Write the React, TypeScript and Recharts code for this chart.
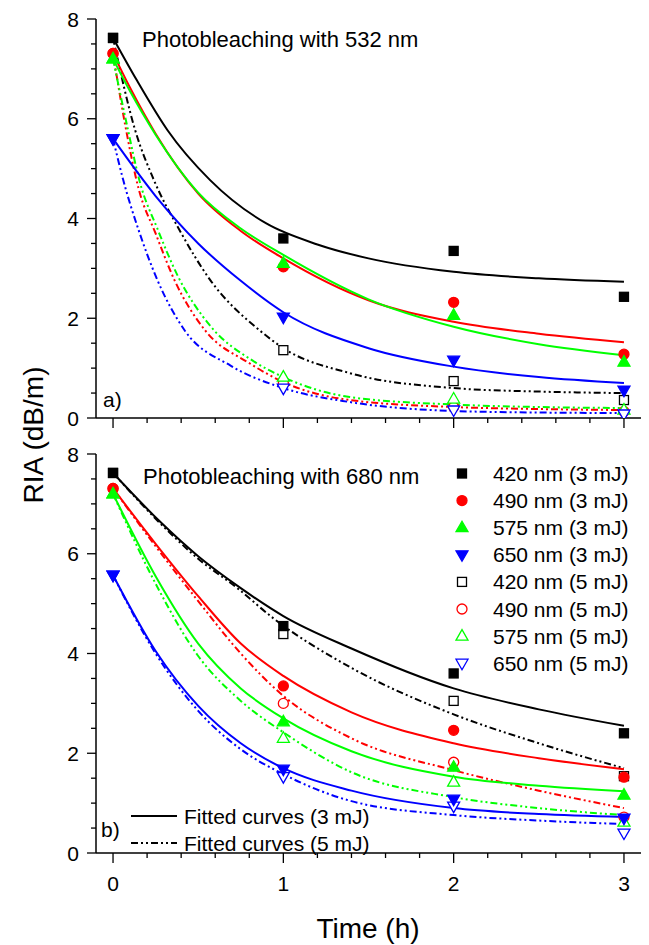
import React from 'react';
import { LineChart, Line, XAxis, YAxis } from 'recharts';

// measurement times (h)
const TIMES = [0, 1, 2, 3];
const WAVELENGTHS = ['420', '490', '575', '650'];
const COLORS = ['#000000', '#ff0000', '#00ff00', '#0000ff'];
const SHAPES = ['square', 'circle', 'triangle', 'triangleDown'];

const X_TICKS = [0, 0.2, 0.4, 0.6, 0.8, 1, 1.2, 1.4, 1.6, 1.8, 2, 2.2, 2.4, 2.6, 2.8, 3];
const X_LABELS = [0, 1, 2, 3];
const Y_TICKS = [0, 0.5, 1, 1.5, 2, 2.5, 3, 3.5, 4, 4.5, 5, 5.5, 6, 6.5, 7, 7.5, 8];
const Y_LABELS = [0, 2, 4, 6, 8];

// RIA (dB/m) measured, photobleaching with 532 nm
const P532_420_3 = [7.62, 3.6, 3.35, 2.43];
const P532_490_3 = [7.31, 3.03, 2.32, 1.28];
const P532_575_3 = [7.2, 3.1, 2.06, 1.12];
const P532_650_3 = [5.6, 2.02, 1.16, 0.56];
const P532_420_5 = [7.62, 1.36, 0.74, 0.36];
const P532_490_5 = [7.31, 0.7, 0.22, 0.13];
const P532_575_5 = [7.2, 0.82, 0.38, 0.16];
const P532_650_5 = [5.6, 0.6, 0.16, 0.08];

// photobleaching with 680 nm
const P680_420_3 = [7.62, 4.55, 3.6, 2.4];
const P680_490_3 = [7.31, 3.35, 2.46, 1.52];
const P680_575_3 = [7.2, 2.63, 1.72, 1.16];
const P680_650_3 = [5.57, 1.68, 1.08, 0.7];
const P680_420_5 = [7.62, 4.39, 3.05, 1.54];
const P680_490_5 = [7.31, 3.0, 1.82, 0.72];
const P680_575_5 = [7.2, 2.3, 1.42, 0.62];
const P680_650_5 = [5.57, 1.53, 0.94, 0.4];

// fitted curves, [t, RIA]
const F532_420_3 = [[0, 7.62], [0.14, 6.77], [0.32, 5.77], [0.57, 4.77], [0.9, 3.9], [1.2, 3.48], [1.5, 3.2], [2, 2.93], [2.5, 2.8], [3, 2.73]];
const F532_490_3 = [[0, 7.31], [0.1, 6.62], [0.25, 5.7], [0.5, 4.5], [0.75, 3.75], [1, 3.2], [1.5, 2.36], [2, 1.93], [2.5, 1.69], [3, 1.52]];
const F532_575_3 = [[0, 7.2], [0.1, 6.55], [0.25, 5.68], [0.5, 4.52], [0.75, 3.8], [1, 3.27], [1.5, 2.38], [2, 1.83], [2.5, 1.48], [3, 1.26]];
const F532_650_3 = [[0, 5.6], [0.25, 4.45], [0.5, 3.5], [0.75, 2.75], [1, 2.12], [1.5, 1.4], [2, 1.03], [2.5, 0.82], [3, 0.7]];
const F532_420_5 = [[0, 7.62], [0.13, 5.77], [0.24, 4.77], [0.39, 3.77], [0.57, 2.77], [0.86, 1.76], [1, 1.4], [1.39, 0.9], [2, 0.6], [2.5, 0.53], [3, 0.5]];
const F532_490_5 = [[0, 7.31], [0.07, 5.9], [0.15, 4.6], [0.25, 3.7], [0.36, 2.77], [0.54, 1.76], [0.8, 1.1], [1, 0.72], [1.39, 0.36], [2, 0.22], [2.5, 0.18], [3, 0.16]];
const F532_575_5 = [[0, 7.2], [0.08, 5.9], [0.16, 4.7], [0.26, 3.8], [0.38, 2.85], [0.57, 1.85], [0.82, 1.15], [1, 0.82], [1.39, 0.42], [2, 0.27], [2.5, 0.22], [3, 0.2]];
const F532_650_5 = [[0, 5.6], [0.06, 4.77], [0.15, 3.77], [0.26, 2.77], [0.42, 1.76], [0.69, 1.05], [1, 0.6], [1.39, 0.32], [2, 0.14], [2.5, 0.11], [3, 0.1]];

const F680_420_3 = [[0, 7.62], [0.28, 6.63], [0.5, 5.95], [0.75, 5.31], [1, 4.75], [1.4, 4.1], [2, 3.3], [2.5, 2.88], [3, 2.55]];
const F680_490_3 = [[0, 7.31], [0.25, 6.2], [0.5, 5.15], [0.75, 4.2], [1, 3.55], [1.4, 2.82], [2, 2.2], [2.5, 1.9], [3, 1.68]];
const F680_575_3 = [[0, 7.2], [0.25, 5.55], [0.5, 4.2], [0.75, 3.3], [1, 2.7], [1.4, 2.04], [2, 1.53], [2.5, 1.35], [3, 1.24]];
const F680_650_3 = [[0, 5.57], [0.25, 4.05], [0.5, 2.95], [0.75, 2.2], [1, 1.7], [1.4, 1.25], [2, 0.9], [2.5, 0.78], [3, 0.72]];
const F680_420_5 = [[0, 7.62], [0.28, 6.6], [0.5, 5.9], [0.73, 5.31], [0.94, 4.71], [1.39, 3.73], [2, 2.78], [2.5, 2.2], [3, 1.7]];
const F680_490_5 = [[0, 7.31], [0.25, 6.15], [0.5, 5.05], [0.75, 4.0], [1, 3.15], [1.4, 2.3], [2, 1.66], [2.5, 1.25], [3, 0.9]];
const F680_575_5 = [[0, 7.2], [0.25, 5.4], [0.5, 3.95], [0.75, 3.05], [1, 2.42], [1.4, 1.62], [2, 1.12], [2.5, 0.9], [3, 0.76]];
const F680_650_5 = [[0, 5.57], [0.25, 4.0], [0.5, 2.85], [0.75, 2.08], [1, 1.58], [1.4, 1.04], [2, 0.76], [2.5, 0.65], [3, 0.58]];

const FONT = '"Liberation Sans", Arial, sans-serif';
const DASH_DOT_DOT = '7 3 2 3 2 3';
const AXIS = { stroke: '#000', strokeWidth: 1.5 };

const toPts = (vals: number[]) => vals.map((v, i) => ({ t: TIMES[i], v }));
const toCurve = (pairs: number[][]) => pairs.map(([t, v]) => ({ t, v }));

function Marker({ cx, cy, shape, color, filled }: any) {
  if (cx == null || cy == null) return <g />;
  const fill = filled ? color : '#ffffff';
  const sw = 1.3;
  switch (shape) {
    case 'square':
      return <rect x={cx - 4.5} y={cy - 4.5} width={9} height={9} fill={fill} stroke={color} strokeWidth={sw} />;
    case 'circle':
      return <circle cx={cx} cy={cy} r={5} fill={fill} stroke={color} strokeWidth={sw} />;
    case 'triangle':
      return <polygon points={`${cx},${cy - 6.5} ${cx + 6},${cy + 4} ${cx - 6},${cy + 4}`} fill={fill} stroke={color} strokeWidth={sw} />;
    default:
      return <polygon points={`${cx - 6},${cy - 4} ${cx + 6},${cy - 4} ${cx},${cy + 6.5}`} fill={fill} stroke={color} strokeWidth={sw} />;
  }
}

const renderXTick = (p: any, labels: boolean) => {
  const v = p.payload.value;
  const major = X_LABELS.includes(v);
  return (
    <g key={`xt-${v}`}>
      <line x1={p.x} x2={p.x} y1={p.y} y2={p.y + (major ? 10 : 5)} stroke="#000" strokeWidth={1.3} />
      {labels && major && (
        <text x={p.x} y={p.y + 38} textAnchor="middle" fontSize={21} fontFamily={FONT} fill="#000">{v}</text>
      )}
    </g>
  );
};

const renderYTick = (p: any) => {
  const v = p.payload.value;
  const major = Y_LABELS.includes(v);
  return (
    <g key={`yt-${v}`}>
      <line x1={p.x} x2={p.x - (major ? 9 : 5)} y1={p.y} y2={p.y} stroke="#000" strokeWidth={1.3} />
      {major && (
        <text x={p.x - 17} y={p.y + 7.5} textAnchor="end" fontSize={21} fontFamily={FONT} fill="#000">{v}</text>
      )}
    </g>
  );
};

function Panel({ pts3, pts5, fits3, fits5, labels, height, xAxisHeight }: any) {
  return (
    <LineChart width={649} height={height} margin={{ top: 19, right: 8, bottom: 0, left: 0 }}>
      <XAxis type="number" dataKey="t" domain={[-0.1, 3.1]} ticks={X_TICKS} interval={0} allowDataOverflow
        tickSize={0} tickMargin={0} tickLine={false} height={xAxisHeight} axisLine={AXIS}
        tick={(p: any) => renderXTick(p, labels)} />
      <XAxis xAxisId="top" orientation="top" type="number" domain={[-0.1, 3.1]} height={0}
        tick={false} tickLine={false} axisLine={AXIS} />
      <YAxis type="number" domain={[0, 8]} ticks={Y_TICKS} interval={0} allowDataOverflow width={96}
        tickSize={0} tickMargin={0} tickLine={false} axisLine={AXIS} tick={renderYTick} />
      <YAxis yAxisId="right" orientation="right" type="number" domain={[0, 8]} width={0}
        tick={false} tickLine={false} axisLine={AXIS} />
      {fits5.map((f: number[][], i: number) => (
        <Line key={`f5-${i}`} data={toCurve(f)} dataKey="v" type="monotone" stroke={COLORS[i]} strokeWidth={2}
          strokeDasharray={DASH_DOT_DOT} dot={false} activeDot={false} isAnimationActive={false} />
      ))}
      {fits3.map((f: number[][], i: number) => (
        <Line key={`f3-${i}`} data={toCurve(f)} dataKey="v" type="monotone" stroke={COLORS[i]} strokeWidth={2}
          dot={false} activeDot={false} isAnimationActive={false} />
      ))}
      {pts5.map((vals: number[], i: number) => (
        <Line key={`p5-${i}`} data={toPts(vals)} dataKey="v" stroke="none" activeDot={false} isAnimationActive={false}
          dot={(d: any) => <Marker key={`m5-${i}-${d.index}`} cx={d.cx} cy={d.cy} shape={SHAPES[i]} color={COLORS[i]} filled={false} />} />
      ))}
      {pts3.map((vals: number[], i: number) => (
        <Line key={`p3-${i}`} data={toPts(vals)} dataKey="v" stroke="none" activeDot={false} isAnimationActive={false}
          dot={(d: any) => <Marker key={`m3-${i}-${d.index}`} cx={d.cx} cy={d.cy} shape={SHAPES[i]} color={COLORS[i]} filled />} />
      ))}
    </LineChart>
  );
}

export default function App() {
  const legendRows = [
    ...WAVELENGTHS.map((w, i) => ({ name: `${w} nm (3 mJ)`, i, filled: true })),
    ...WAVELENGTHS.map((w, i) => ({ name: `${w} nm (5 mJ)`, i, filled: false })),
  ];
  return (
    <div style={{ position: 'absolute', left: 0, top: 0, width: 649, height: 945, background: '#fff', fontFamily: FONT }}>
      <div style={{ position: 'absolute', left: 0, top: 0 }}>
        <Panel
          pts3={[P532_420_3, P532_490_3, P532_575_3, P532_650_3]}
          pts5={[P532_420_5, P532_490_5, P532_575_5, P532_650_5]}
          fits3={[F532_420_3, F532_490_3, F532_575_3, F532_650_3]}
          fits5={[F532_420_5, F532_490_5, F532_575_5, F532_650_5]}
          labels={false} height={432} xAxisHeight={14} />
      </div>
      <div style={{ position: 'absolute', left: 0, top: 435 }}>
        <Panel
          pts3={[P680_420_3, P680_490_3, P680_575_3, P680_650_3]}
          pts5={[P680_420_5, P680_490_5, P680_575_5, P680_650_5]}
          fits3={[F680_420_3, F680_490_3, F680_575_3, F680_650_3]}
          fits5={[F680_420_5, F680_490_5, F680_575_5, F680_650_5]}
          labels height={468} xAxisHeight={50} />
      </div>
      <svg width={649} height={945} style={{ position: 'absolute', left: 0, top: 0, pointerEvents: 'none' }}>
        <g fontFamily={FONT} fill="#000">
          <text x={142} y={47} fontSize={22}>Photobleaching with 532 nm</text>
          <text x={143} y={484} fontSize={22}>Photobleaching with 680 nm</text>
          <text x={103} y={407} fontSize={21}>a)</text>
          <text x={101} y={837} fontSize={21}>b)</text>
          <text x={368} y={938} fontSize={28} textAnchor="middle">Time (h)</text>
          <text x={43} y={435} fontSize={28} textAnchor="middle" transform="rotate(-90 43 435)">RIA (dB/m)</text>
          {legendRows.map((r, k) => {
            const cy = 473.5 + 27.1 * k;
            return (
              <g key={r.name}>
                <Marker cx={462} cy={cy} shape={SHAPES[r.i]} color={COLORS[r.i]} filled={r.filled} />
                <text x={493} y={cy + 7.5} fontSize={21}>{r.name}</text>
              </g>
            );
          })}
          <line x1={131} x2={177} y1={816} y2={816} stroke="#000" strokeWidth={2} />
          <text x={184} y={823.5} fontSize={21}>Fitted curves (3 mJ)</text>
          <line x1={131} x2={177} y1={843} y2={843} stroke="#000" strokeWidth={2} strokeDasharray={DASH_DOT_DOT} />
          <text x={184} y={850.5} fontSize={21}>Fitted curves (5 mJ)</text>
        </g>
      </svg>
    </div>
  );
}
